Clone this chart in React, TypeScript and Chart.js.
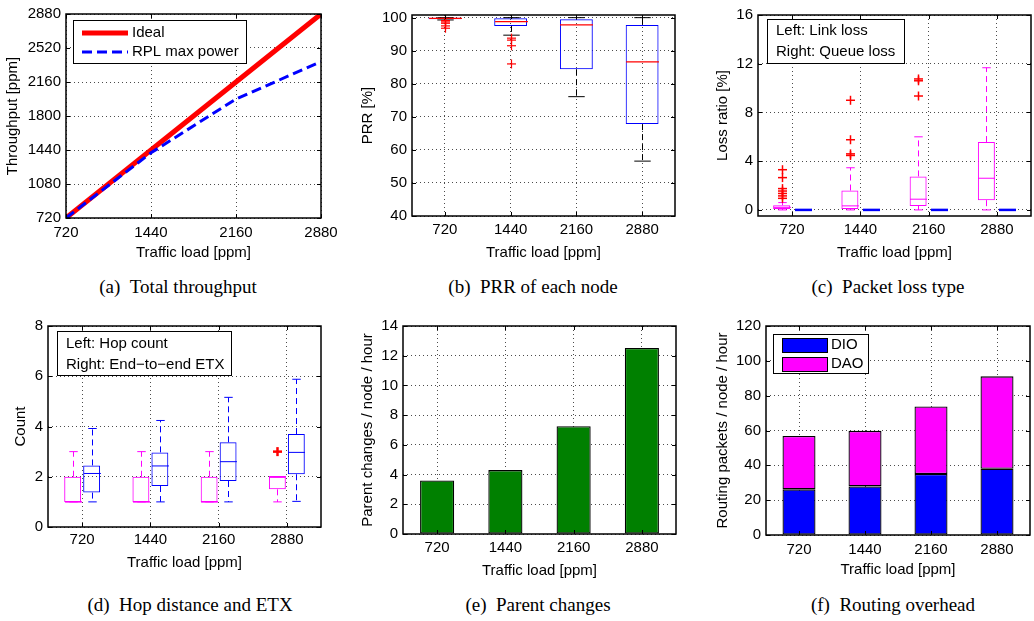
import React, { useEffect, useRef } from "react";
import { Chart, registerables } from "chart.js";

Chart.register(...registerables);

const SANS = "'Liberation Sans', Arial, Helvetica, sans-serif";
const SERIF = "'Liberation Serif', 'Times New Roman', serif";
const FS = 15;
const HALF_LINE = FS * 0.6;
const GRID = "rgba(0,0,0,0.7)";

// ---------------- data ----------------
const LOAD_LABELS = ["720", "1440", "2160", "2880"];
const LOAD_PPM = [720, 1440, 2160, 2880];
const LOAD_TICKS = [720, 1440, 2160, 2880];
const X_TITLE = "Traffic load [ppm]";

// (a) throughput
const THROUGHPUT_IDEAL = [720, 1440, 2160, 2880];
const THROUGHPUT_RPL = [720, 1410, 1980, 2375];
const THROUGHPUT_TICKS = [720, 1080, 1440, 1800, 2160, 2520, 2880];

// (b) PRR box plot
const PRR_Q1 = [99.5, 97.5, 84.4, 67.8];
const PRR_MEDIAN = [99.8, 98.8, 97.8, 86.6];
const PRR_Q3 = [100, 99.8, 99.5, 97.8];
const PRR_LOW = [99.3, 94.7, 76.1, 56.6];
const PRR_HIGH = [100, 100, 100, 100];
const PRR_OUTLIERS = [[99.1, 98.7, 98.3, 97.5, 96.8], [93.8, 93.2, 91.5, 86.0], [], []];
const PRR_TICKS = [40, 50, 60, 70, 80, 90, 100];

// (c) loss type box plots
const LINK_Q1 = [0.08, 0.08, 0.33, 0.8];
const LINK_MEDIAN = [0.21, 0.33, 0.88, 2.6];
const LINK_Q3 = [0.38, 1.59, 2.75, 5.57];
const LINK_LOW = [0, 0, 0, 0];
const LINK_HIGH = [0.6, 3.46, 6.0, 11.67];
const LINK_OUTLIERS = [[3.3, 2.65, 1.75, 1.55, 1.35, 1.15, 0.95], [9.0, 5.76, 4.6, 4.47], [10.75, 10.6, 9.35], []];
const QUEUE_Q1 = [0, 0, 0, 0];
const QUEUE_MEDIAN = [0, 0, 0, 0];
const QUEUE_Q3 = [0, 0, 0, 0];
const QUEUE_LOW = [0, 0, 0, 0];
const QUEUE_HIGH = [0, 0, 0, 0];
const QUEUE_OUTLIERS: number[][] = [[], [], [], []];
const LOSS_TICKS = [0, 4, 8, 12, 16];
const LOSS_LEGEND = ["Left: Link loss", "Right: Queue loss"];

// (d) hop count / ETX box plots
const HOP_Q1 = [1, 1, 1, 1.5];
const HOP_MEDIAN = [1, 1, 1, 2];
const HOP_Q3 = [2, 2, 2, 2];
const HOP_LOW = [1, 1, 1, 1];
const HOP_HIGH = [3, 3, 3, 2];
const HOP_OUTLIERS = [[], [], [], [3]];
const ETX_Q1 = [1.37, 1.63, 1.83, 2.1];
const ETX_MEDIAN = [2.13, 2.43, 2.6, 2.97];
const ETX_Q3 = [2.45, 2.97, 3.37, 3.7];
const ETX_LOW = [1, 1, 1, 1.02];
const ETX_HIGH = [3.92, 4.24, 5.16, 5.88];
const ETX_OUTLIERS: number[][] = [[], [], [], []];
const COUNT_TICKS = [0, 2, 4, 6, 8];
const COUNT_LEGEND = ["Left: Hop count", "Right: End\u2212to\u2212end ETX"];

// (e) parent changes
const PARENT_CHANGES = [3.6, 4.3, 7.25, 12.52];
const PARENT_TICKS = [0, 2, 4, 6, 8, 10, 12, 14];

// (f) routing overhead
const DIO = [26.2, 27.9, 35.0, 38.0];
const DAO = [30.7, 31.9, 38.8, 53.1];
const ROUTING_TICKS = [0, 20, 40, 60, 80, 100, 120];

// ---------------- helpers ----------------
const font = () => ({ family: SANS, size: FS });

function line(ctx: CanvasRenderingContext2D, x1: number, y1: number, x2: number, y2: number) {
  ctx.beginPath();
  ctx.moveTo(x1, y1);
  ctx.lineTo(x2, y2);
  ctx.stroke();
}

function drawFrame(chart: any) {
  const { ctx, chartArea: a } = chart;
  const xs = chart.scales.x;
  const ys = chart.scales.y;
  const T = 4;
  ctx.save();
  ctx.setLineDash([]);
  ctx.strokeStyle = "#000";
  ctx.lineWidth = 1;
  ctx.beginPath();
  xs.ticks.forEach((_t: any, i: number) => {
    const p = Math.round(xs.getPixelForTick(i)) + 0.5;
    ctx.moveTo(p, a.bottom);
    ctx.lineTo(p, a.bottom - T);
    ctx.moveTo(p, a.top);
    ctx.lineTo(p, a.top + T);
  });
  ys.ticks.forEach((_t: any, i: number) => {
    const p = Math.round(ys.getPixelForTick(i)) + 0.5;
    ctx.moveTo(a.left, p);
    ctx.lineTo(a.left + T, p);
    ctx.moveTo(a.right, p);
    ctx.lineTo(a.right - T, p);
  });
  ctx.stroke();
  ctx.lineWidth = 1.5;
  ctx.strokeRect(a.left, a.top, a.right - a.left, a.bottom - a.top);
  ctx.restore();
}

function legendBox(ctx: CanvasRenderingContext2D, x: number, y: number, w: number, h: number) {
  ctx.save();
  ctx.setLineDash([]);
  ctx.fillStyle = "#fff";
  ctx.fillRect(x, y, w, h);
  ctx.strokeStyle = "#000";
  ctx.lineWidth = 1;
  ctx.strokeRect(x + 0.5, y + 0.5, w, h);
  ctx.restore();
}

function textLegend(lines: string[], dx: number, dy: number, w: number, h: number, rows: number[]) {
  return (chart: any) => {
    const { ctx, chartArea: a } = chart;
    const bx = a.left + dx;
    const by = a.top + dy;
    legendBox(ctx, bx, by, w, h);
    ctx.save();
    ctx.fillStyle = "#000";
    ctx.font = `${FS}px ${SANS}`;
    ctx.textBaseline = "middle";
    lines.forEach((t, i) => ctx.fillText(t, bx + 9, by + rows[i]));
    ctx.restore();
  };
}

function framePlugin(legend?: (chart: any) => void) {
  return {
    id: "matlabFrame",
    afterDraw(chart: any) {
      drawFrame(chart);
      if (legend) legend(chart);
    },
  };
}

type BoxStats = { q1: number[]; med: number[]; q3: number[]; lo: number[]; hi: number[]; out: number[][] };
type BoxStyle = { median: string; whisker: string; outlier: string; medianWidth: number; outlierWidth: number };

function boxPlugin(series: { stats: BoxStats; style: BoxStyle }[]) {
  return {
    id: "boxExtras",
    afterDatasetsDraw(chart: any) {
      const ctx: CanvasRenderingContext2D = chart.ctx;
      const y = chart.scales.y;
      ctx.save();
      series.forEach((s, di) => {
        const meta = chart.getDatasetMeta(di);
        meta.data.forEach((bar: any, i: number) => {
          const cx = Math.round(bar.x) + 0.5;
          const w = bar.width;
          const yq1 = y.getPixelForValue(s.stats.q1[i]);
          const yq3 = y.getPixelForValue(s.stats.q3[i]);
          const ylo = y.getPixelForValue(s.stats.lo[i]);
          const yhi = y.getPixelForValue(s.stats.hi[i]);
          const ymed = y.getPixelForValue(s.stats.med[i]);
          ctx.lineWidth = 1;
          ctx.strokeStyle = s.style.whisker;
          ctx.setLineDash([6, 4]);
          if (Math.abs(yhi - yq3) > 0.5) line(ctx, cx, yq3, cx, yhi);
          if (Math.abs(ylo - yq1) > 0.5) line(ctx, cx, yq1, cx, ylo);
          ctx.setLineDash([]);
          const cw = w / 4;
          line(ctx, cx - cw, yhi, cx + cw, yhi);
          line(ctx, cx - cw, ylo, cx + cw, ylo);
          ctx.strokeStyle = s.style.median;
          ctx.lineWidth = s.style.medianWidth;
          line(ctx, cx - w / 2, ymed, cx + w / 2, ymed);
          ctx.strokeStyle = s.style.outlier;
          ctx.lineWidth = s.style.outlierWidth;
          s.stats.out[i].forEach((v) => {
            const py = y.getPixelForValue(v);
            line(ctx, cx - 4.5, py, cx + 4.5, py);
            line(ctx, cx, py - 4.5, cx, py + 4.5);
          });
        });
      });
      ctx.restore();
    },
  };
}

// labelOffset: distance from plot bottom to tick-label centre; titleFromBottom: distance from canvas bottom to title centre
function xCategory(height: number, labelOffset: number, titleFromBottom: number, extra: any = {}) {
  return {
    type: "category",
    offset: true,
    grid: { offset: false, color: GRID, lineWidth: 1, drawTicks: false },
    border: { display: false, dash: [1, 3] },
    ticks: { padding: labelOffset - HALF_LINE, color: "#000", font: font(), maxRotation: 0, autoSkip: false },
    title: {
      display: true,
      text: X_TITLE,
      color: "#000",
      font: font(),
      padding: { top: 0, bottom: titleFromBottom - HALF_LINE },
    },
    afterFit: (s: any) => {
      s.height = height;
    },
    ...extra,
  };
}

function yLinear(min: number, max: number, ticks: number[], width: number, titleCenter: number, title: string, extra: any = {}) {
  return {
    type: "linear",
    min,
    max,
    afterBuildTicks: (s: any) => {
      s.ticks = ticks.map((v) => ({ value: v }));
    },
    grid: { color: GRID, lineWidth: 1, drawTicks: false },
    border: { display: false, dash: [1, 3] },
    ticks: { padding: 5, color: "#000", font: font(), callback: (v: any) => String(v) },
    title: { display: true, text: title, color: "#000", font: font(), padding: { top: titleCenter - HALF_LINE, bottom: 0 } },
    afterFit: (s: any) => {
      s.width = width;
    },
    ...extra,
  };
}

function baseOptions(right: number, top: number) {
  return {
    responsive: false,
    animation: false,
    devicePixelRatio: 1,
    layout: { padding: { left: 0, right, top, bottom: 0 } },
    plugins: { legend: { display: false }, tooltip: { enabled: false } },
  };
}

function boxDataset(q1: number[], q3: number[], color: string, barPercentage: number, categoryPercentage: number) {
  return {
    type: "bar",
    data: q1.map((v, i) => [v, q3[i]]),
    backgroundColor: "rgba(0,0,0,0)",
    borderColor: color,
    borderWidth: 1,
    borderSkipped: false,
    barPercentage,
    categoryPercentage,
  };
}

// ---------------- chart configs ----------------
function configA(): any {
  return {
    type: "line",
    data: {
      datasets: [
        {
          label: "Ideal",
          data: LOAD_PPM.map((x, i) => ({ x, y: THROUGHPUT_IDEAL[i] })),
          borderColor: "#ff0000",
          borderWidth: 5,
          pointRadius: 0,
          order: 2,
        },
        {
          label: "RPL max power",
          data: LOAD_PPM.map((x, i) => ({ x, y: THROUGHPUT_RPL[i] })),
          borderColor: "#0000ff",
          borderWidth: 3,
          borderDash: [10, 5],
          pointRadius: 0,
          order: 1,
        },
      ],
    },
    options: {
      ...baseOptions(24, 12),
      scales: {
        x: {
          type: "linear",
          min: 720,
          max: 2880,
          afterBuildTicks: (s: any) => {
            s.ticks = LOAD_TICKS.map((v) => ({ value: v }));
          },
          grid: { color: GRID, lineWidth: 1, drawTicks: false },
          border: { display: false, dash: [1, 3] },
          ticks: { padding: 15.3 - HALF_LINE, color: "#000", font: font(), maxRotation: 0, callback: (v: any) => String(v) },
          title: { display: true, text: X_TITLE, color: "#000", font: font(), padding: { top: 0, bottom: 12 - HALF_LINE } },
          afterFit: (s: any) => {
            s.height = 47;
          },
        },
        y: yLinear(720, 2880, THROUGHPUT_TICKS, 66, 13, "Throughput [ppm]"),
      },
    },
    plugins: [
      framePlugin((chart: any) => {
        const { ctx, chartArea: a } = chart;
        const bx = a.left + 7;
        const by = a.top + 6;
        legendBox(ctx, bx, by, 173, 43);
        const rows = [13, 32];
        ctx.save();
        chart.data.datasets.forEach((ds: any, i: number) => {
          ctx.strokeStyle = ds.borderColor;
          ctx.lineWidth = ds.borderWidth;
          ctx.setLineDash(ds.borderDash || []);
          line(ctx, bx + 9, by + rows[i], bx + 55, by + rows[i]);
          ctx.setLineDash([]);
          ctx.fillStyle = "#000";
          ctx.font = `${FS}px ${SANS}`;
          ctx.textBaseline = "middle";
          ctx.fillText(ds.label, bx + 59, by + rows[i]);
        });
        ctx.restore();
      }),
    ],
  };
}

function configB(): any {
  return {
    type: "bar",
    data: {
      labels: LOAD_LABELS,
      datasets: [boxDataset(PRR_Q1, PRR_Q3, "#0000ff", 0.5, 1)],
    },
    options: {
      ...baseOptions(15, 15),
      scales: {
        x: xCategory(49, 14, 12),
        y: yLinear(40, 100.8, PRR_TICKS, 67, 23, "PRR [%]"),
      },
    },
    plugins: [
      boxPlugin([
        {
          stats: { q1: PRR_Q1, med: PRR_MEDIAN, q3: PRR_Q3, lo: PRR_LOW, hi: PRR_HIGH, out: PRR_OUTLIERS },
          style: { median: "#ff0000", whisker: "#000000", outlier: "#ff0000", medianWidth: 1.2, outlierWidth: 1.2 },
        },
      ]),
      framePlugin(),
    ],
  };
}

function configC(): any {
  return {
    type: "bar",
    data: {
      labels: LOAD_LABELS,
      datasets: [
        boxDataset(LINK_Q1, LINK_Q3, "#ff00ff", 0.81, 0.615),
        boxDataset(QUEUE_Q1, QUEUE_Q3, "#0000ff", 0.81, 0.615),
      ],
    },
    options: {
      ...baseOptions(3, 15),
      scales: {
        x: xCategory(49, 14, 12),
        y: yLinear(-0.5, 16, LOSS_TICKS, 68, 33, "Loss ratio [%]"),
      },
    },
    plugins: [
      boxPlugin([
        {
          stats: { q1: LINK_Q1, med: LINK_MEDIAN, q3: LINK_Q3, lo: LINK_LOW, hi: LINK_HIGH, out: LINK_OUTLIERS },
          style: { median: "#ff00ff", whisker: "#ff00ff", outlier: "#ff0000", medianWidth: 1, outlierWidth: 1.5 },
        },
        {
          stats: { q1: QUEUE_Q1, med: QUEUE_MEDIAN, q3: QUEUE_Q3, lo: QUEUE_LOW, hi: QUEUE_HIGH, out: QUEUE_OUTLIERS },
          style: { median: "#0000ff", whisker: "#0000ff", outlier: "#ff0000", medianWidth: 2.5, outlierWidth: 1.5 },
        },
      ]),
      framePlugin(textLegend(LOSS_LEGEND, 9, 4, 137, 44, [12, 33])),
    ],
  };
}

function configD(): any {
  return {
    type: "bar",
    data: {
      labels: LOAD_LABELS,
      datasets: [
        boxDataset(HOP_Q1, HOP_Q3, "#ff00ff", 0.89, 0.556),
        boxDataset(ETX_Q1, ETX_Q3, "#0000ff", 0.89, 0.556),
      ],
    },
    options: {
      ...baseOptions(24, 16),
      scales: {
        x: xCategory(63, 13, 27),
        y: yLinear(0, 8, COUNT_TICKS, 48, 21, "Count"),
      },
    },
    plugins: [
      boxPlugin([
        {
          stats: { q1: HOP_Q1, med: HOP_MEDIAN, q3: HOP_Q3, lo: HOP_LOW, hi: HOP_HIGH, out: HOP_OUTLIERS },
          style: { median: "#ff00ff", whisker: "#ff00ff", outlier: "#ff0000", medianWidth: 1.5, outlierWidth: 2.5 },
        },
        {
          stats: { q1: ETX_Q1, med: ETX_MEDIAN, q3: ETX_Q3, lo: ETX_LOW, hi: ETX_HIGH, out: ETX_OUTLIERS },
          style: { median: "#0000ff", whisker: "#0000ff", outlier: "#ff0000", medianWidth: 1, outlierWidth: 2.5 },
        },
      ]),
      framePlugin(textLegend(COUNT_LEGEND, 9, 5, 174, 44, [13, 34])),
    ],
  };
}

function configE(): any {
  return {
    type: "bar",
    data: {
      labels: LOAD_LABELS,
      datasets: [
        {
          label: "Parent changes",
          data: PARENT_CHANGES,
          backgroundColor: "#008000",
          borderColor: "#000",
          borderWidth: 1.3,
          borderSkipped: false,
          barPercentage: 0.5,
          categoryPercentage: 1,
        },
      ],
    },
    options: {
      ...baseOptions(14, 16),
      scales: {
        x: xCategory(56, 14, 19),
        y: yLinear(0, 14, PARENT_TICKS, 58, 23, "Parent changes / node / hour"),
      },
    },
    plugins: [framePlugin()],
  };
}

function configF(): any {
  return {
    type: "bar",
    data: {
      labels: LOAD_LABELS,
      datasets: [
        {
          label: "DIO",
          data: DIO,
          backgroundColor: "#0000ff",
          borderColor: "#000",
          borderWidth: 1.3,
          borderSkipped: false,
          barPercentage: 0.5,
          categoryPercentage: 1,
        },
        {
          label: "DAO",
          data: DAO,
          backgroundColor: "#ff00ff",
          borderColor: "#000",
          borderWidth: 1.3,
          borderSkipped: false,
          barPercentage: 0.5,
          categoryPercentage: 1,
        },
      ],
    },
    options: {
      ...baseOptions(4, 16),
      scales: {
        x: xCategory(55, 15, 20, { stacked: true }),
        y: yLinear(0, 120, ROUTING_TICKS, 76, 33, "Routing packets / node / hour", { stacked: true }),
      },
    },
    plugins: [
      framePlugin((chart: any) => {
        const { ctx, chartArea: a } = chart;
        const bx = a.left + 7;
        const by = a.top + 8;
        legendBox(ctx, bx, by, 95, 39);
        const rows = [11, 30];
        ctx.save();
        chart.data.datasets.forEach((ds: any, i: number) => {
          ctx.fillStyle = ds.backgroundColor;
          ctx.fillRect(bx + 9, by + rows[i] - 7, 45, 14);
          ctx.strokeStyle = "#000";
          ctx.lineWidth = 1;
          ctx.strokeRect(bx + 9.5, by + rows[i] - 6.5, 45, 14);
          ctx.fillStyle = "#000";
          ctx.font = `${FS}px ${SANS}`;
          ctx.textBaseline = "middle";
          ctx.fillText(ds.label, bx + 58, by + rows[i]);
        });
        ctx.restore();
      }),
    ],
  };
}

// ---------------- components ----------------
function Panel(props: { left: number; top: number; width: number; height: number; make: () => any }) {
  const ref = useRef<HTMLCanvasElement>(null);
  useEffect(() => {
    const chart = new Chart(ref.current as HTMLCanvasElement, props.make());
    return () => chart.destroy();
  }, []);
  return (
    <canvas
      ref={ref}
      width={props.width}
      height={props.height}
      style={{ position: "absolute", left: props.left, top: props.top, width: props.width, height: props.height }}
    />
  );
}

function Caption(props: { cx: number; cy: number; tag: string; text: string }) {
  return (
    <div
      style={{
        position: "absolute",
        left: props.cx,
        top: props.cy - 11,
        transform: "translateX(-50%)",
        whiteSpace: "nowrap",
        fontFamily: SERIF,
        fontSize: 19,
        lineHeight: "22px",
        color: "#000",
      }}
    >
      {props.tag}
      {"\u2002"}
      {props.text}
    </div>
  );
}

export default function App() {
  Chart.defaults.font.family = SANS;
  return (
    <div style={{ position: "absolute", left: 0, top: 0, width: 1034, height: 621, background: "#fff", overflow: "hidden" }}>
      <Panel left={0} top={0} width={345} height={265} make={configA} />
      <Panel left={345} top={0} width={345} height={265} make={configB} />
      <Panel left={690} top={0} width={344} height={265} make={configC} />
      <Panel left={0} top={310} width={345} height={280} make={configD} />
      <Panel left={345} top={310} width={345} height={280} make={configE} />
      <Panel left={690} top={310} width={344} height={280} make={configF} />
      <Caption cx={178} cy={287} tag="(a)" text="Total throughput" />
      <Caption cx={533} cy={287} tag="(b)" text="PRR of each node" />
      <Caption cx={888} cy={287} tag="(c)" text="Packet loss type" />
      <Caption cx={190} cy={605} tag="(d)" text="Hop distance and ETX" />
      <Caption cx={538} cy={605} tag="(e)" text="Parent changes" />
      <Caption cx={893} cy={605} tag="(f)" text="Routing overhead" />
    </div>
  );
}
